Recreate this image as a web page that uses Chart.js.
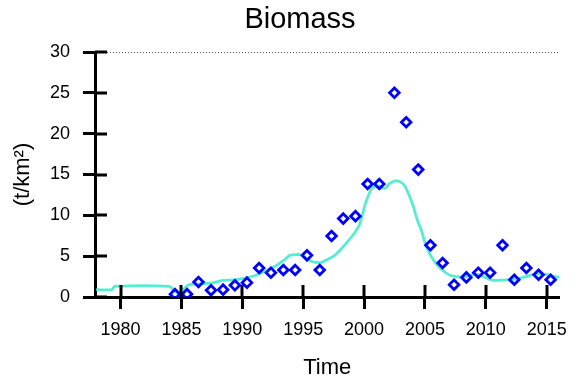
<!DOCTYPE html>
<html>
<head>
<meta charset="utf-8">
<script src="https://cdn.jsdelivr.net/npm/chart.js@4/dist/chart.umd.min.js"></script>
<style>
  html, body { margin: 0; padding: 0; background: #fff; }
  #wrap { width: 577px; height: 386px; }
</style>
</head>
<body>
<div id="wrap"><canvas id="biomassChart" width="577" height="386"></canvas></div>
<script>
// observed biomass points (hollow diamonds)
const obsYears = [1984.47, 1985.46, 1986.4, 1987.43, 1988.42, 1989.39, 1990.38, 1991.38,
  1992.35, 1993.37, 1994.34, 1995.31, 1996.36, 1997.33, 1998.29, 1999.29, 2000.29, 2001.25,
  2002.49, 2003.46, 2004.45, 2005.45, 2006.45, 2007.39, 2008.4, 2009.38, 2010.35, 2011.37,
  2012.34, 2013.33, 2014.33, 2015.32];
const obsBiomass = [0.35, 0.35, 1.84, 0.82, 0.9, 1.43, 1.76, 3.55,
  2.98, 3.3, 3.3, 5.1, 3.3, 7.47, 9.6, 9.9, 13.84, 13.84,
  25.0, 21.4, 15.6, 6.33, 4.16, 1.51, 2.4, 2.98, 2.98, 6.33,
  2.12, 3.55, 2.73, 2.12];

// modelled biomass (turquoise line)
const fitYears = [1978.0, 1979.3, 1979.5, 1984.0, 1984.4, 1984.8, 1985.2, 1985.6, 1986.5, 1987.5,
  1988.3, 1989.3, 1990.2, 1991.0, 1991.5, 1992.2, 1992.85, 1993.5, 1993.9, 1994.4,
  1994.8, 1995.3, 1995.8, 1996.5, 1997.0, 1997.5, 1998.0, 1998.6, 1999.2, 1999.6,
  1999.85, 2000.1, 2000.3, 2000.65, 2001.2, 2001.7, 2002.1, 2002.5, 2002.9, 2003.3,
  2003.6, 2004.0, 2004.4, 2004.7, 2005.1, 2005.5, 2005.8, 2006.2, 2006.6, 2007.0,
  2007.6, 2008.4, 2009.2, 2009.8, 2010.5, 2011.0, 2012.3, 2013.3, 2014.0, 2014.8,
  2015.4, 2016.0];
const fitBiomass = [0.9, 0.9, 1.3, 1.3, 0.8, 0.5, 1.0, 1.5, 1.6, 1.7,
  2.0, 2.1, 2.3, 2.6, 2.9, 3.4, 3.9, 4.6, 5.1, 5.2,
  5.15, 4.7, 4.3, 4.25, 4.6, 5.0, 5.7, 6.7, 7.8, 8.8,
  10.0, 11.4, 12.2, 13.3, 13.6, 13.3, 13.9, 14.2, 14.15, 13.7,
  12.8, 11.3, 9.3, 8.2, 6.2, 5.0, 4.3, 3.6, 3.1, 2.7,
  2.5, 2.5, 2.8, 2.5, 2.05, 2.05, 2.15, 2.5, 2.8, 2.8,
  2.6, 2.4];

const xTicks = [1980, 1985, 1990, 1995, 2000, 2005, 2010, 2015];
const yTicks = [0, 5, 10, 15, 20, 25, 30];

const FONT = "'Liberation Sans', Arial, sans-serif";
const TICK_LEN = 12;

// ticks cross the axis, dotted line at the top, title
const extras = {
  id: 'extras',
  afterDraw(chart) {
    const ctx = chart.ctx;
    const xs = chart.scales.x, ys = chart.scales.y;
    const area = chart.chartArea;
    ctx.save();

    const yTop = ys.getPixelForValue(yTicks[yTicks.length - 1]);
    ctx.strokeStyle = '#555';
    ctx.lineWidth = 1;
    ctx.setLineDash([1, 2]);
    ctx.beginPath();
    ctx.moveTo(area.left + 6, yTop + 0.5);
    ctx.lineTo(area.right, yTop + 0.5);
    ctx.stroke();
    ctx.setLineDash([]);

    ctx.strokeStyle = '#000';
    ctx.lineWidth = 3;
    ctx.beginPath();
    xTicks.forEach(v => {
      const px = Math.round(xs.getPixelForValue(v));
      ctx.moveTo(px, area.bottom);
      ctx.lineTo(px, area.bottom - TICK_LEN);
    });
    yTicks.forEach(v => {
      const py = Math.round(ys.getPixelForValue(v));
      ctx.moveTo(area.left, py);
      ctx.lineTo(area.left + TICK_LEN, py);
    });
    ctx.stroke();

    ctx.fillStyle = '#000';
    ctx.font = '29px ' + FONT;
    ctx.textAlign = 'center';
    ctx.textBaseline = 'middle';
    ctx.fillText('Biomass', 300, 20);
    ctx.restore();
  }
};

new Chart(document.getElementById('biomassChart'), {
  type: 'scatter',
  data: {
    datasets: [
      {
        label: 'Observed',
        data: obsYears.map((x, i) => ({ x: x, y: obsBiomass[i] })),
        pointStyle: 'rectRot',
        pointRadius: 4.8,
        pointBorderWidth: 2.8,
        pointBorderColor: '#0000ff',
        pointBackgroundColor: 'rgba(255,255,255,0)',
        showLine: false
      },
      {
        label: 'Model',
        data: fitYears.map((x, i) => ({ x: x, y: fitBiomass[i] })),
        showLine: true,
        borderColor: '#55ecd2',
        borderWidth: 2.8,
        pointRadius: 0,
        tension: 0.3,
        fill: false
      }
    ]
  },
  options: {
    responsive: false,
    animation: false,
    layout: { padding: { top: 52, right: 10, left: 0, bottom: 0 } },
    plugins: {
      legend: { display: false },
      tooltip: { enabled: false },
      title: { display: false }
    },
    scales: {
      x: {
        type: 'linear',
        min: 1977.9,
        max: 2016.05,
        afterFit: s => { s.height = 89; },
        afterBuildTicks: s => { s.ticks = xTicks.map(v => ({ value: v })); },
        border: { display: true, color: '#000', width: 3 },
        grid: { drawOnChartArea: false, drawTicks: true, tickLength: TICK_LEN, tickColor: '#000', tickWidth: 3 },
        ticks: { color: '#000', padding: 10, maxRotation: 0, font: { family: FONT, size: 18 }, callback: v => String(v) },
        title: { display: true, text: 'Time', color: '#000', padding: { top: 0, bottom: 5 }, font: { family: FONT, size: 22 } }
      },
      y: {
        type: 'linear',
        min: 0,
        max: 30,
        afterFit: s => { s.width = 95; },
        afterBuildTicks: s => { s.ticks = yTicks.map(v => ({ value: v })); },
        border: { display: true, color: '#000', width: 3 },
        grid: { drawOnChartArea: false, drawTicks: true, tickLength: TICK_LEN, tickColor: '#000', tickWidth: 3 },
        ticks: { color: '#000', padding: 13, font: { family: FONT, size: 18 } },
        title: { display: true, text: '(t/km²)', color: '#000', padding: { top: 10, bottom: 0 }, font: { family: FONT, size: 22 } }
      }
    }
  },
  plugins: [extras]
});
</script>
</body>
</html>
